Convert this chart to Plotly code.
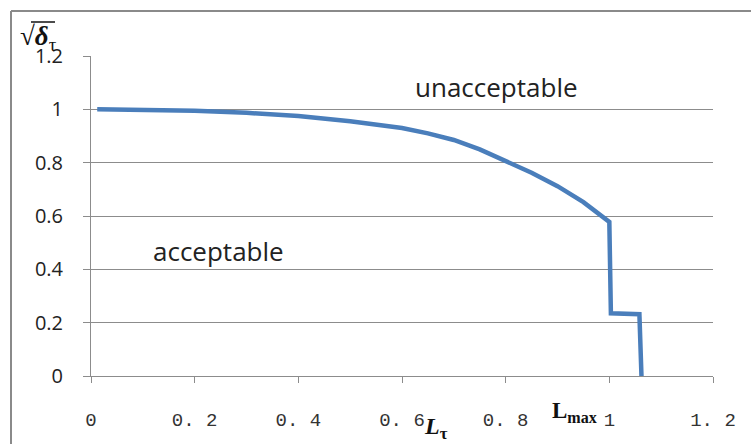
import plotly.graph_objects as go

# data
lr = [0.012, 0.1, 0.2, 0.3, 0.4, 0.5, 0.6, 0.65, 0.7, 0.75, 0.8, 0.85, 0.9, 0.95, 1.0, 1.003, 1.058, 1.062]
sqrt_delta = [1.0, 0.999, 0.995, 0.987, 0.975, 0.955, 0.93, 0.91, 0.885, 0.85, 0.807, 0.762, 0.712, 0.652, 0.578, 0.235, 0.232, 0.0]

x_tickvals = [0, 0.2, 0.4, 0.6, 0.8, 1.0, 1.2]
x_ticktext = ["0", "0. 2", "0. 4", "0. 6", "0. 8", "1", "1. 2"]
y_tickvals = [0, 0.2, 0.4, 0.6, 0.8, 1.0, 1.2]
y_ticktext = ["0", "0.2", "0.4", "0.6", "0.8", "1", "1.2"]

W, H = 751, 444
L, R, T, B = 91, 38, 56, 68
pw, ph = W - L - R, H - T - B

def px(xp):
    return (xp - L) / pw

def py(yp):
    return (H - B - yp) / ph

grid = "#8c8c8c"

fig = go.Figure()
fig.add_trace(go.Scatter(x=lr, y=sqrt_delta, mode="lines",
                         line=dict(color="#4a7ebb", width=4.5),
                         showlegend=False, hoverinfo="skip"))

fig.update_layout(
    width=W, height=H,
    margin=dict(l=L, r=R, t=T, b=B),
    paper_bgcolor="white", plot_bgcolor="white",
    showlegend=False,
    xaxis=dict(range=[0, 1.2], tickvals=x_tickvals, ticktext=x_ticktext,
               showgrid=False, zeroline=False, showline=True, linecolor=grid, linewidth=1,
               ticks="outside", ticklen=6, tickcolor=grid, ticklabelstandoff=20,
               tickfont=dict(family="Liberation Mono", size=19, color="#333333")),
    yaxis=dict(range=[0, 1.2], tickvals=y_tickvals, ticktext=y_ticktext,
               showgrid=True, gridcolor=grid, gridwidth=1, zeroline=False,
               showline=True, linecolor=grid, linewidth=1,
               ticks="outside", ticklen=7, tickcolor=grid, ticklabelstandoff=16,
               tickfont=dict(family="Open Sans", size=20, color="#222222")),
)

# outer border (top and left edges visible)
fig.add_shape(type="line", xref="paper", yref="paper", x0=px(11), x1=px(760), y0=py(11), y1=py(11),
              line=dict(color="#8a8a8a", width=2))
fig.add_shape(type="line", xref="paper", yref="paper", x0=px(11), x1=px(11), y0=py(11), y1=py(460),
              line=dict(color="#8a8a8a", width=2))

def note(xp, yp, text, family, size, color="#222222"):
    fig.add_annotation(xref="paper", yref="paper", x=px(xp), y=py(yp), text=text,
                       xanchor="center", yanchor="middle", showarrow=False,
                       font=dict(family=family, size=size, color=color))

note(496, 87, "unacceptable", "Open Sans", 26)
note(218, 251, "acceptable", "Open Sans", 26)

# y-axis label sqrt(delta_tau)
note(38, 38, "√<b><i>δ</i></b><sub>τ</sub>", "Liberation Serif", 27, "#111111")
fig.add_shape(type="line", xref="paper", yref="paper", x0=px(31), x1=px(55), y0=py(22), y1=py(22),
              line=dict(color="#111111", width=1.5))

# x-axis labels
note(436, 428, "<b><i>L</i></b><sub><b>τ</b></sub>", "Liberation Serif", 24, "#111111")
note(574, 412, "<b>L</b><sub><b>max</b></sub>", "Liberation Serif", 23, "#111111")

fig.write_html("out.html")
